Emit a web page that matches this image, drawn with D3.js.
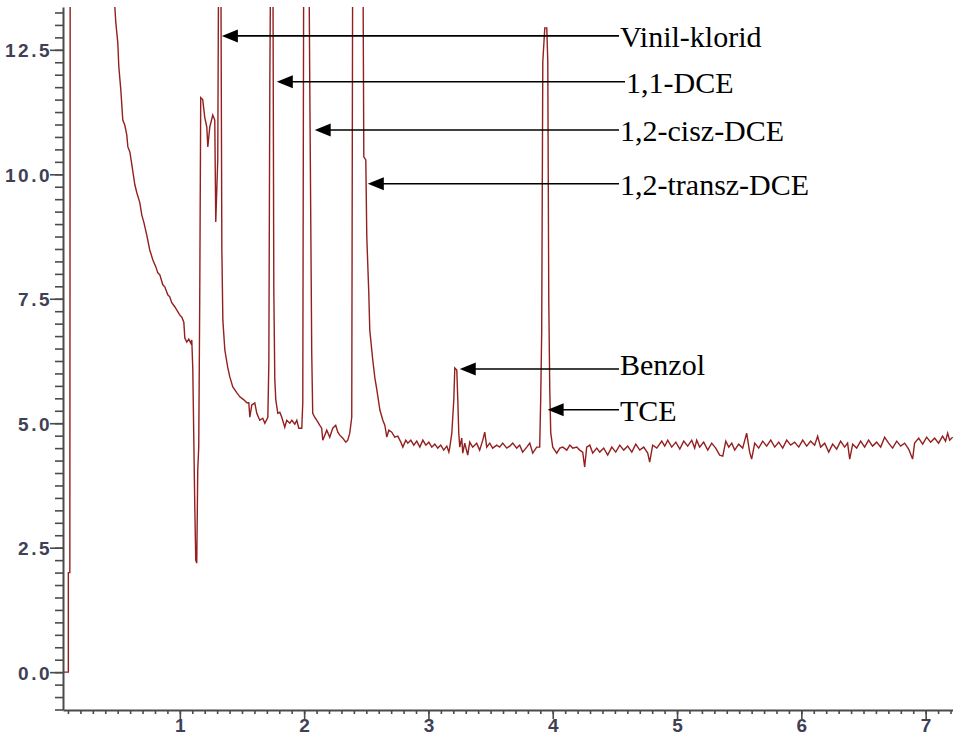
<!DOCTYPE html>
<html>
<head>
<meta charset="utf-8">
<script src="https://cdn.jsdelivr.net/npm/d3@7"></script>
<style>
  body { margin: 0; background: #ffffff; }
  svg { display: block; }
</style>
</head>
<body>
<svg id="chart" width="953" height="735"></svg>
<script>
// Chromatogram: retention time (min) against detector signal
const retentionTrace = [
  [0.060, 0.00], [0.103, 0.00], [0.103, 2.00], [0.115, 2.00], [0.118, 15.0],
  [0.470, 15.0], [0.477, 13.36], [0.485, 13.04], [0.501, 12.64], [0.509, 12.16],
  [0.525, 11.70], [0.541, 11.09], [0.557, 10.99], [0.573, 10.79], [0.582, 10.55],
  [0.598, 10.45], [0.614, 10.19], [0.638, 9.79], [0.654, 9.63], [0.678, 9.43],
  [0.694, 9.18], [0.710, 9.04], [0.734, 8.78], [0.758, 8.48], [0.783, 8.28],
  [0.807, 8.14], [0.823, 8.02], [0.839, 7.98], [0.863, 7.78], [0.879, 7.74],
  [0.903, 7.58], [0.919, 7.54], [0.935, 7.42], [0.959, 7.34], [0.976, 7.27],
  [1.000, 7.17], [1.016, 7.13], [1.032, 7.03], [1.040, 6.71], [1.056, 6.63],
  [1.072, 6.69], [1.088, 6.61], [1.096, 6.67], [1.104, 6.11], [1.120, 3.36],
  [1.128, 2.25], [1.136, 2.19], [1.144, 4.06], [1.152, 4.52], [1.160, 7.48],
  [1.168, 11.54], [1.184, 11.50], [1.200, 11.15], [1.217, 10.95], [1.225, 10.55],
  [1.241, 10.95], [1.265, 11.19], [1.281, 11.09], [1.289, 9.04], [1.305, 10.29],
  [1.313, 15.0], [1.329, 15.0], [1.338, 8.48], [1.346, 7.07], [1.362, 6.47],
  [1.386, 6.11], [1.402, 5.93], [1.426, 5.73], [1.459, 5.61], [1.483, 5.53],
  [1.515, 5.47], [1.539, 5.41], [1.555, 5.41], [1.563, 5.12], [1.579, 5.37],
  [1.603, 5.41], [1.619, 5.20], [1.643, 5.06], [1.667, 5.10], [1.684, 5.00],
  [1.708, 5.12], [1.716, 6.21], [1.724, 11.86], [1.732, 15.0], [1.748, 15.0],
  [1.756, 7.68], [1.764, 5.87], [1.772, 5.47], [1.788, 5.20], [1.804, 5.22],
  [1.820, 5.12], [1.844, 4.92], [1.860, 5.06], [1.885, 5.00], [1.901, 5.06],
  [1.925, 4.98], [1.941, 5.06], [1.957, 4.90], [1.981, 4.90], [1.989, 5.41],
  [1.997, 15.0], [2.037, 15.0], [2.045, 11.90], [2.061, 6.41], [2.069, 5.20],
  [2.085, 5.12], [2.101, 5.06], [2.125, 4.96], [2.141, 4.90], [2.150, 4.66],
  [2.166, 4.76], [2.182, 4.86], [2.206, 4.72], [2.230, 4.90], [2.254, 4.96],
  [2.271, 4.82], [2.287, 4.76], [2.311, 4.70], [2.335, 4.62], [2.351, 4.66],
  [2.367, 4.80], [2.383, 5.12], [2.391, 15.0], [2.472, 15.0], [2.480, 10.35],
  [2.496, 10.29], [2.504, 8.74], [2.520, 7.62], [2.528, 6.87], [2.552, 6.27],
  [2.569, 5.91], [2.585, 5.67], [2.609, 5.27], [2.633, 5.06], [2.649, 4.96],
  [2.665, 4.72], [2.681, 4.86], [2.705, 4.82], [2.729, 4.72], [2.753, 4.74],
  [2.778, 4.62], [2.794, 4.52], [2.818, 4.66], [2.834, 4.60], [2.858, 4.66],
  [2.882, 4.56], [2.906, 4.64], [2.931, 4.52], [2.955, 4.66], [2.979, 4.56],
  [3.003, 4.62], [3.027, 4.52], [3.051, 4.58], [3.075, 4.50], [3.099, 4.56],
  [3.123, 4.46], [3.148, 4.54], [3.164, 4.42], [3.172, 4.52], [3.188, 4.80],
  [3.204, 5.47], [3.212, 6.11], [3.228, 6.07], [3.236, 5.47], [3.244, 4.80],
  [3.252, 4.52], [3.268, 4.70], [3.276, 4.40], [3.292, 4.60], [3.316, 4.36],
  [3.332, 4.62], [3.356, 4.52], [3.388, 4.60], [3.412, 4.46], [3.437, 4.66],
  [3.453, 4.82], [3.469, 4.52], [3.493, 4.60], [3.517, 4.50], [3.549, 4.56],
  [3.573, 4.52], [3.597, 4.60], [3.630, 4.50], [3.654, 4.54], [3.678, 4.60],
  [3.710, 4.50], [3.734, 4.56], [3.758, 4.42], [3.791, 4.52], [3.815, 4.60],
  [3.839, 4.40], [3.871, 4.52], [3.895, 4.52], [3.903, 5.47], [3.911, 6.81],
  [3.920, 12.26], [3.936, 12.94], [3.952, 12.94], [3.960, 12.26], [3.968, 7.48],
  [3.976, 5.67], [3.984, 4.80], [4.000, 4.52], [4.032, 4.40], [4.057, 4.50],
  [4.081, 4.52], [4.113, 4.46], [4.137, 4.56], [4.161, 4.50], [4.193, 4.52],
  [4.217, 4.46], [4.241, 4.42], [4.257, 4.12], [4.273, 4.52], [4.298, 4.56],
  [4.322, 4.40], [4.354, 4.50], [4.378, 4.42], [4.410, 4.50], [4.442, 4.36],
  [4.475, 4.52], [4.507, 4.42], [4.539, 4.56], [4.571, 4.46], [4.603, 4.54],
  [4.636, 4.42], [4.668, 4.58], [4.700, 4.46], [4.732, 4.52], [4.764, 4.40],
  [4.780, 4.22], [4.804, 4.56], [4.837, 4.50], [4.877, 4.64], [4.901, 4.54],
  [4.925, 4.66], [4.957, 4.52], [4.990, 4.62], [5.022, 4.48], [5.054, 4.64],
  [5.086, 4.54], [5.118, 4.66], [5.142, 4.50], [5.158, 4.66], [5.182, 4.52],
  [5.214, 4.62], [5.247, 4.46], [5.279, 4.60], [5.311, 4.50], [5.343, 4.36],
  [5.368, 4.34], [5.392, 4.64], [5.416, 4.52], [5.440, 4.60], [5.464, 4.46],
  [5.496, 4.58], [5.528, 4.50], [5.560, 4.80], [5.584, 4.42], [5.600, 4.28],
  [5.625, 4.60], [5.657, 4.50], [5.689, 4.64], [5.721, 4.54], [5.754, 4.66],
  [5.786, 4.52], [5.818, 4.62], [5.850, 4.50], [5.882, 4.66], [5.914, 4.56],
  [5.946, 4.62], [5.979, 4.52], [6.011, 4.66], [6.043, 4.54], [6.075, 4.64],
  [6.107, 4.56], [6.131, 4.74], [6.155, 4.52], [6.188, 4.60], [6.220, 4.42],
  [6.252, 4.58], [6.284, 4.48], [6.316, 4.64], [6.348, 4.52], [6.372, 4.60],
  [6.389, 4.28], [6.413, 4.58], [6.445, 4.50], [6.477, 4.64], [6.509, 4.52],
  [6.541, 4.66], [6.573, 4.54], [6.606, 4.62], [6.638, 4.52], [6.670, 4.72],
  [6.702, 4.60], [6.734, 4.50], [6.767, 4.64], [6.799, 4.54], [6.831, 4.60],
  [6.863, 4.48], [6.895, 4.28], [6.911, 4.60], [6.944, 4.70], [6.976, 4.58],
  [7.008, 4.72], [7.040, 4.62], [7.072, 4.70], [7.104, 4.60], [7.136, 4.74],
  [7.160, 4.64], [7.177, 4.80], [7.193, 4.66], [7.217, 4.72]
];

// Identified compounds and the point on the trace each arrow points to
const peakNames   = ["Vinil-klorid", "1,1-DCE", "1,2-cisz-DCE", "1,2-transz-DCE", "Benzol", "TCE"];
const peakTimes   = [1.338, 1.780, 2.085, 2.512, 3.252, 3.959];
const peakSignals = [12.78, 11.86, 10.89, 9.81, 6.09, 5.27];

// Axis tick labels
const xTickLabels = ["1", "2", "3", "4", "5", "6", "7"];
const yTickLabels = ["0.0", "2.5", "5.0", "7.5", "10.0", "12.5"];

const svg = d3.select("#chart");
const plotLeft = 63, plotRight = 953, plotTop = 7, plotBottom = 710;

const x = d3.scaleLinear().domain([0.06, 7.22]).range([plotLeft, plotRight]);
const y = d3.scaleLinear().domain([-0.76, 13.36]).range([plotBottom, plotTop]);

const axisColor = "#4a4a4a";
const labelColor = "#3e4155";
const tickFont = "'Liberation Sans', Arial, sans-serif";

// minor ticks
const xMinor = d3.range(1, 73).map(i => i / 10);
const yMinor = d3.range(-3, 54).map(i => i / 4);

function styleAxis(g) {
  g.select(".domain").attr("stroke", axisColor).attr("stroke-width", 2);
  g.selectAll(".tick line").attr("stroke", axisColor).attr("stroke-width", 1.6);
}

// y axis
svg.append("g")
  .attr("transform", `translate(${plotLeft},0)`)
  .call(d3.axisLeft(y).tickValues(yMinor).tickSize(8).tickSizeOuter(0).tickFormat(""))
  .call(styleAxis);

const yMajor = svg.append("g")
  .attr("transform", `translate(${plotLeft},0)`)
  .attr("font-size", 19)
  .call(d3.axisLeft(y).tickValues(yTickLabels.map(Number)).tickSize(13).tickSizeOuter(0)
    .tickFormat((d, i) => yTickLabels[i]))
  .call(styleAxis)
  .attr("font-size", 19)
  .attr("font-family", tickFont)
  .attr("font-weight", "bold");
yMajor.select(".domain").remove();
yMajor.selectAll(".tick text")
  .attr("x", -11)
  .attr("dy", "0.36em")
  .attr("fill", labelColor)
  .style("letter-spacing", "2.5px");

// x axis
svg.append("g")
  .attr("transform", `translate(0,${plotBottom})`)
  .call(d3.axisBottom(x).tickValues(xMinor).tickSize(4).tickSizeOuter(0).tickFormat(""))
  .call(styleAxis);

const xMajor = svg.append("g")
  .attr("transform", `translate(0,${plotBottom})`)
  .call(d3.axisBottom(x).tickValues(xTickLabels.map(Number)).tickSize(9).tickSizeOuter(0)
    .tickFormat((d, i) => xTickLabels[i]))
  .call(styleAxis)
  .attr("font-size", 19)
  .attr("font-family", tickFont)
  .attr("font-weight", "bold");
xMajor.select(".domain").remove();
xMajor.selectAll(".tick text")
  .attr("y", 9)
  .attr("dy", "0.71em")
  .attr("fill", labelColor);

// trace, clipped to the plotting area
svg.append("defs").append("clipPath").attr("id", "plotClip")
  .append("rect").attr("x", plotLeft + 1).attr("y", plotTop)
  .attr("width", plotRight - plotLeft).attr("height", plotBottom - plotTop);

const line = d3.line().x(d => x(d[0])).y(d => y(d[1]));
svg.append("path")
  .datum(retentionTrace)
  .attr("clip-path", "url(#plotClip)")
  .attr("fill", "none")
  .attr("stroke", "#931f1f")
  .attr("stroke-width", 1.4)
  .attr("stroke-linejoin", "miter")
  .attr("d", line);

// peak annotations: label on the right, arrow pointing back to the peak
const labelLeft = 620;
const labelNudgeX = { "1,1-DCE": 6 };
const labelNudgeY = { "Benzol": -5 };
const headLen = 16, headHalf = 6.5;

const ann = svg.append("g").attr("class", "annotations");
peakNames.forEach((name, i) => {
  const tx = x(peakTimes[i]);
  const ty = y(peakSignals[i]);
  const lx = labelLeft + (labelNudgeX[name] || 0);
  ann.append("line")
    .attr("x1", tx + headLen - 1).attr("y1", ty)
    .attr("x2", lx - 1).attr("y2", ty)
    .attr("stroke", "#000").attr("stroke-width", 1.6);
  ann.append("path")
    .attr("d", `M${tx},${ty}L${tx + headLen},${ty - headHalf}L${tx + headLen},${ty + headHalf}Z`)
    .attr("fill", "#000");
  ann.append("text")
    .attr("x", lx).attr("y", ty + 11 + (labelNudgeY[name] || 0))
    .attr("fill", "#000")
    .style("font-family", "'Liberation Serif', 'Times New Roman', serif")
    .style("font-size", "30px")
    .text(name);
});
</script>
</body>
</html>
